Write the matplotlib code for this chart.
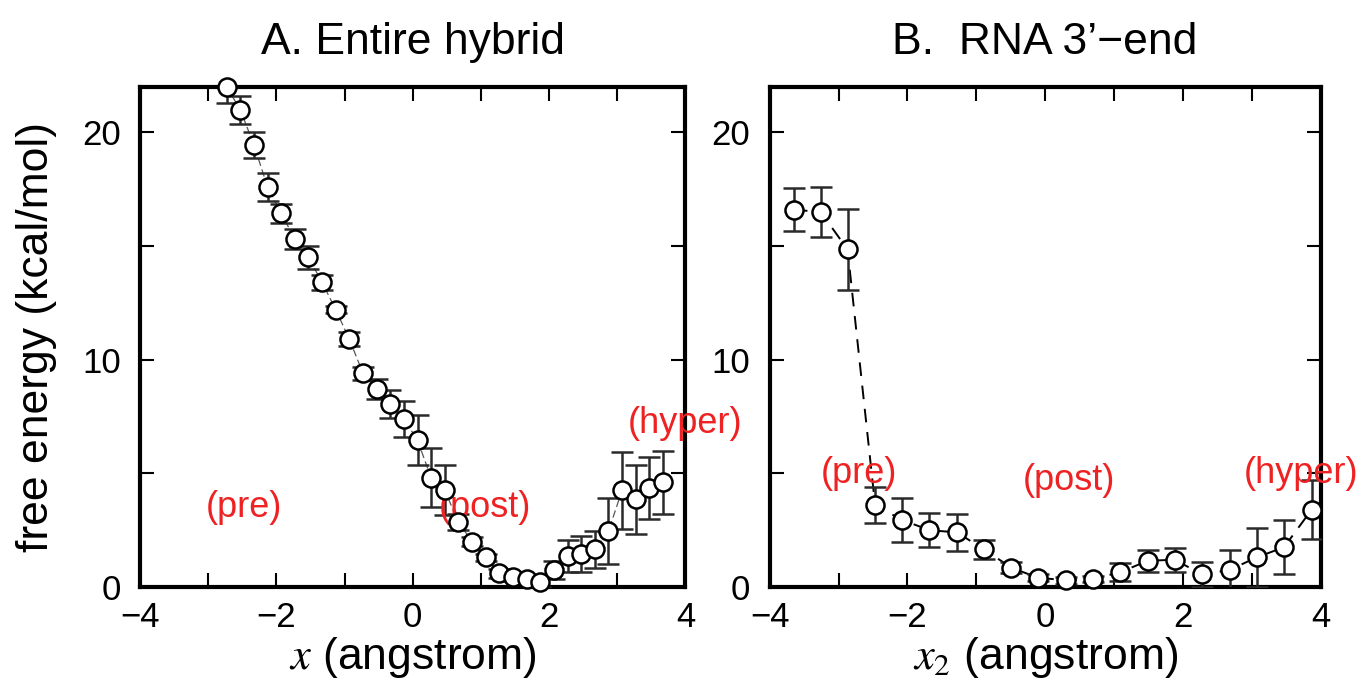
import numpy as np
import matplotlib
matplotlib.use('Agg')
import matplotlib.pyplot as plt
from matplotlib.ticker import MultipleLocator, FuncFormatter

plt.rcParams['font.family'] = ['Liberation Sans', 'DejaVu Sans']
plt.rcParams['mathtext.fontset'] = 'stix'

# panel A: entire hybrid
x_a = [-2.73, -2.53, -2.33, -2.13, -1.93, -1.73, -1.53, -1.33, -1.13, -0.93,
       -0.73, -0.53, -0.33, -0.13, 0.07, 0.27, 0.47, 0.67, 0.87, 1.07,
       1.27, 1.47, 1.67, 1.87, 2.07, 2.27, 2.47, 2.67, 2.87, 3.07,
       3.27, 3.47, 3.67]
g_a = [22.0, 21.0, 19.45, 17.6, 16.45, 15.3, 14.5, 13.4, 12.2, 10.9,
       9.4, 8.7, 8.05, 7.4, 6.45, 4.8, 4.25, 2.85, 2.0, 1.3,
       0.6, 0.45, 0.35, 0.2, 0.75, 1.35, 1.45, 1.65, 2.45, 4.25,
       3.85, 4.35, 4.6]
err_a = [0.7, 0.62, 0.57, 0.63, 0.42, 0.45, 0.5, 0.33, 0.15, 0.3,
         0.3, 0.45, 0.6, 0.8, 1.1, 1.3, 1.1, 0.35, 0.2, 0.15,
         0.2, 0.2, 0.15, 0.2, 0.4, 0.7, 0.8, 0.8, 1.45, 1.7,
         1.5, 1.35, 1.4]

# panel B: RNA 3'-end
x_b = [-3.65, -3.26, -2.87, -2.47, -2.08, -1.68, -1.28, -0.89, -0.49, -0.10,
       0.30, 0.70, 1.09, 1.49, 1.88, 2.28, 2.68, 3.07, 3.47, 3.87]
g_b = [16.6, 16.5, 14.85, 3.6, 2.95, 2.5, 2.4, 1.65, 0.85, 0.4,
       0.3, 0.35, 0.65, 1.15, 1.2, 0.55, 0.75, 1.3, 1.75, 3.4]
err_b = [0.95, 1.1, 1.8, 0.8, 0.97, 0.75, 0.8, 0.4, 0.25, 0.15,
         0.15, 0.15, 0.4, 0.48, 0.53, 0.55, 0.88, 1.3, 1.2, 1.3]

titles = ['A. Entire hybrid', 'B.  RNA 3\u2019\u2212end']
xlabels = ['$x$ (angstrom)', '$x_2$ (angstrom)']
labels_a = [('(pre)', -2.47, 3.5), ('(post)', 1.06, 3.5), ('(hyper)', 4.0, 7.2)]
labels_b = [('(pre)', -2.7, 5.0), ('(post)', 0.35, 4.7), ('(hyper)', 3.72, 5.0)]

fig = plt.figure(figsize=(13.6, 6.93), dpi=100)
ax_a = fig.add_axes([0.103, 0.153, 0.401, 0.7215])
ax_b = fig.add_axes([0.566, 0.153, 0.405, 0.7215])


def style_axis(ax, title, xlabel):
    ax.set_xlim(-4, 4)
    ax.set_ylim(0, 22)
    ax.xaxis.set_major_locator(MultipleLocator(1))
    ax.xaxis.set_major_formatter(FuncFormatter(
        lambda v, p: ('%d' % v).replace('-', '\u2212') if int(round(v)) % 2 == 0 else ''))
    ax.yaxis.set_major_locator(MultipleLocator(10))
    ax.yaxis.set_minor_locator(MultipleLocator(5))
    ax.tick_params(which='both', direction='in', top=True, right=True,
                   labelsize=25, width=1.5, length=10)
    ax.tick_params(axis='x', pad=10)
    ax.tick_params(axis='y', pad=14)
    for s in ax.spines.values():
        s.set_linewidth(3)
    ax.set_title(title, fontsize=32, pad=24)
    ax.set_xlabel(xlabel, fontsize=32, labelpad=1)


ax_a.plot(x_a, g_a, '--', color='#555555', lw=0.9, dashes=(6, 3), zorder=2)
ax_a.errorbar(x_a, g_a, yerr=err_a, fmt='none', ecolor='#2a2a2a', elinewidth=1.8,
              capsize=8, capthick=1.8, zorder=3)
ax_a.plot(x_a, g_a, 'o', ms=13, mfc='white', mec='black', mew=1.8, zorder=4,
          clip_on=False)
style_axis(ax_a, titles[0], xlabels[0])
ax_a.set_ylabel('free energy (kcal/mol)', fontsize=32, labelpad=18)
for txt, tx, ty in labels_a:
    ax_a.text(tx, ty, txt, color='#ee2222', fontsize=26, ha='center', va='center',
              clip_on=False)

ax_b.plot(x_b, g_b, '--', color='black', lw=1.4, dashes=(7, 5), zorder=2)
ax_b.errorbar(x_b, g_b, yerr=err_b, fmt='none', ecolor='#2a2a2a', elinewidth=1.8,
              capsize=8, capthick=1.8, zorder=3)
ax_b.plot(x_b, g_b, 'o', ms=13, mfc='white', mec='black', mew=1.8, zorder=4,
          clip_on=False)
style_axis(ax_b, titles[1], xlabels[1])
for txt, tx, ty in labels_b:
    ax_b.text(tx, ty, txt, color='#ee2222', fontsize=26, ha='center', va='center',
              clip_on=False)

fig.savefig('out.png', dpi=100)
